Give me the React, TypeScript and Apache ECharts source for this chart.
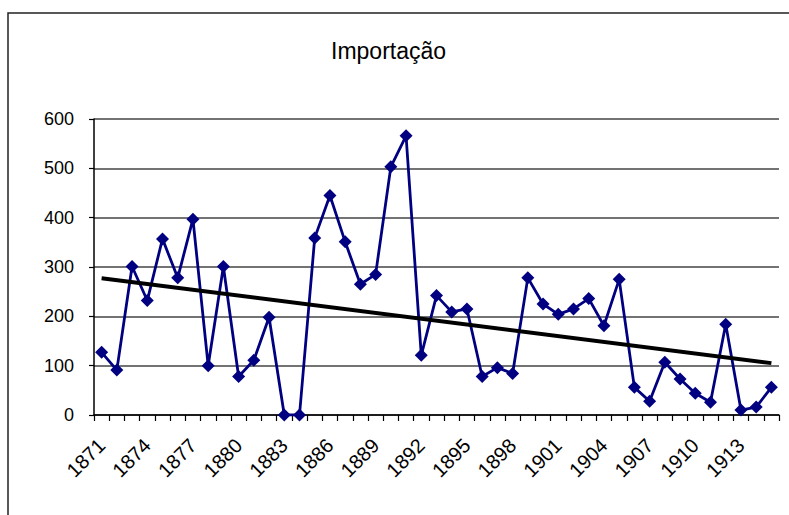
import React, { useEffect, useRef } from "react";
import * as echarts from "echarts";

const years: string[] = [
  "1871","1872","1873","1874","1875","1876","1877","1878","1879","1880",
  "1881","1882","1883","1884","1885","1886","1887","1888","1889","1890",
  "1891","1892","1893","1894","1895","1896","1897","1898","1899","1900",
  "1901","1902","1903","1904","1905","1906","1907","1908","1909","1910",
  "1911","1912","1913","1914","1915",
];

const importacao: number[] = [
  127, 91, 301, 232, 357, 278, 397, 100, 301, 78,
  111, 198, 0, 0, 359, 445, 351, 265, 285, 503,
  566, 121, 242, 209, 215, 78, 96, 84, 278, 225,
  204, 215, 236, 181, 275, 56, 28, 107, 73, 44,
  26, 184, 10, 16, 56,
];

const yTicks: number[] = [0, 100, 200, 300, 400, 500, 600];

function linearTrend(vals: number[]): [number, number] {
  const n = vals.length;
  let sx = 0, sy = 0, sxx = 0, sxy = 0;
  vals.forEach((v, i) => {
    sx += i; sy += v; sxx += i * i; sxy += i * v;
  });
  const slope = (n * sxy - sx * sy) / (n * sxx - sx * sx);
  const intercept = (sy - slope * sx) / n;
  return [intercept, intercept + slope * (n - 1)];
}

export default function App() {
  const ref = useRef<HTMLDivElement>(null);
  useEffect(() => {
    if (!ref.current) return;
    const chart = echarts.init(ref.current, undefined, { renderer: "svg" });
    const [tStart, tEnd] = linearTrend(importacao);
    const font = "'Liberation Sans', Arial, sans-serif";
    chart.setOption({
      animation: false,
      backgroundColor: "#ffffff",
      title: {
        text: "Importação",
        left: 326,
        top: 34,
        textStyle: { fontFamily: font, fontSize: 23, fontWeight: "normal", color: "#000" },
      },
      graphic: [
        {
          type: "rect",
          shape: { x: 8, y: 13, width: 800, height: 600 },
          style: { fill: "none", stroke: "#222", lineWidth: 1.5 },
          silent: true,
        },
      ],
      grid: { left: 94, right: 10, top: 119, bottom: 100, containLabel: false },
      xAxis: {
        type: "category",
        data: years,
        boundaryGap: true,
        axisLine: { show: true, lineStyle: { color: "#000", width: 1.5 } },
        axisTick: { show: true, interval: 0, length: 6, lineStyle: { color: "#000", width: 1.2 } },
        axisLabel: {
          interval: 2,
          rotate: 45,
          margin: 27,
          fontFamily: font,
          fontSize: 20,
          color: "#000",
        },
        splitLine: { show: false },
      },
      yAxis: {
        type: "value",
        min: yTicks[0],
        max: yTicks[yTicks.length - 1],
        interval: 100,
        axisLine: { show: true, lineStyle: { color: "#000", width: 1.5 } },
        axisTick: { show: true, length: 5, inside: false, lineStyle: { color: "#000", width: 1.2 } },
        axisLabel: { margin: 20, fontFamily: font, fontSize: 18, color: "#000" },
        splitLine: { show: true, lineStyle: { color: "#444", width: 1.5 } },
      },
      series: [
        {
          name: "Importação",
          type: "line",
          data: importacao,
          symbol: "diamond",
          symbolSize: 13,
          showAllSymbol: true,
          lineStyle: { color: "#000080", width: 2.8 },
          itemStyle: { color: "#000080" },
          z: 3,
          markLine: {
            silent: true,
            symbol: ["none", "none"],
            label: { show: false },
            lineStyle: { color: "#000", width: 4, type: "solid" },
            data: [[{ coord: [0, tStart] }, { coord: [importacao.length - 1, tEnd] }]],
          },
        },
      ],
    });
    return () => chart.dispose();
  }, []);
  return (
    <div
      ref={ref}
      style={{ position: "fixed", left: 0, top: 0, width: 789, height: 515 }}
    />
  );
}
